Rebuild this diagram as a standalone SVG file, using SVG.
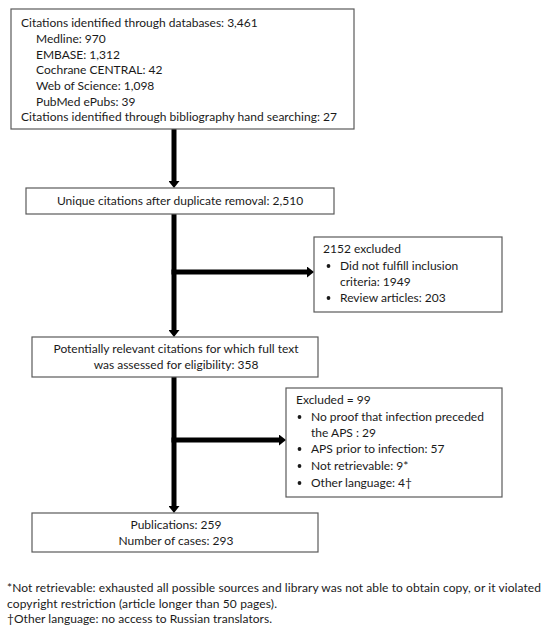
<svg xmlns="http://www.w3.org/2000/svg" width="552" height="637" viewBox="0 0 552 637">
<style>
  text { font-family: Lato, "Open Sans", "Liberation Sans", sans-serif; font-size: 12px; fill: #1a1a1a; }
  .box { fill: #ffffff; stroke: #5a5a5a; stroke-width: 1.2; }
  .flow { stroke: #000000; stroke-width: 5; fill: none; }
  .c { text-anchor: middle; }
  .dot { fill: #1a1a1a; }
</style>
<defs>
  <marker id="arr" markerUnits="userSpaceOnUse" markerWidth="8" markerHeight="11" refX="0" refY="5.5" orient="auto">
    <path d="M0,0 L7,5.5 L0,11 z" fill="#000000"/>
  </marker>
</defs>
<rect width="552" height="637" fill="#ffffff"/>

<g id="connectors">
  <line class="flow" x1="174" y1="129" x2="174" y2="181" marker-end="url(#arr)"/>
  <line class="flow" x1="174" y1="214" x2="174" y2="330" marker-end="url(#arr)"/>
  <line class="flow" x1="174" y1="377" x2="174" y2="506" marker-end="url(#arr)"/>
  <line class="flow" x1="171.5" y1="272" x2="307" y2="272" marker-end="url(#arr)"/>
  <line class="flow" x1="171.5" y1="440" x2="279" y2="440" marker-end="url(#arr)"/>
</g>

<g id="identified">
  <rect class="box" x="11" y="9" width="343" height="120"/>
  <text x="21" y="27">Citations identified through databases: 3,461</text>
  <text x="36" y="42.5">Medline: 970</text>
  <text x="36" y="58.5">EMBASE: 1,312</text>
  <text x="36" y="74">Cochrane CENTRAL: 42</text>
  <text x="36" y="90">Web of Science: 1,098</text>
  <text x="36" y="105.5">PubMed ePubs: 39</text>
  <text x="21" y="121" textLength="316">Citations identified through bibliography hand searching: 27</text>
</g>

<g id="unique">
  <rect class="box" x="26" y="188" width="308" height="26"/>
  <text class="c" x="180" y="205">Unique citations after duplicate removal: 2,510</text>
</g>

<g id="excluded1">
  <rect class="box" x="314" y="237" width="188" height="75"/>
  <text x="323" y="253">2152 excluded</text>
  <circle class="dot" cx="328.5" cy="266" r="1.9"/>
  <text x="340" y="270">Did not fulfill inclusion</text>
  <text x="340" y="286">criteria: 1949</text>
  <circle class="dot" cx="328.5" cy="298" r="1.9"/>
  <text x="340" y="302">Review articles: 203</text>
</g>

<g id="fulltext">
  <rect class="box" x="32" y="337" width="286" height="40"/>
  <text class="c" x="176" y="353">Potentially relevant citations for which full text</text>
  <text class="c" x="176" y="369">was assessed for eligibility: 358</text>
</g>

<g id="excluded2">
  <rect class="box" x="286" y="388" width="216" height="109"/>
  <text x="296" y="404">Excluded = 99</text>
  <circle class="dot" cx="299.5" cy="417" r="1.9"/>
  <text x="311" y="421">No proof that infection preceded</text>
  <text x="311" y="437">the APS : 29</text>
  <circle class="dot" cx="299.5" cy="449" r="1.9"/>
  <text x="311" y="453">APS prior to infection: 57</text>
  <circle class="dot" cx="299.5" cy="466" r="1.9"/>
  <text x="311" y="470">Not retrievable: 9*</text>
  <circle class="dot" cx="299.5" cy="483" r="1.9"/>
  <text x="311" y="487">Other language: 4†</text>
</g>

<g id="included">
  <rect class="box" x="32" y="513" width="286" height="39"/>
  <text class="c" x="176" y="529">Publications: 259</text>
  <text class="c" x="176" y="545">Number of cases: 293</text>
</g>

<g id="footnotes">
  <text x="7" y="592" textLength="534">*Not retrievable: exhausted all possible sources and library was not able to obtain copy, or it violated</text>
  <text x="7" y="608" textLength="270">copyright restriction (article longer than 50 pages).</text>
  <text x="7" y="623" textLength="265">†Other language: no access to Russian translators.</text>
</g>
</svg>
